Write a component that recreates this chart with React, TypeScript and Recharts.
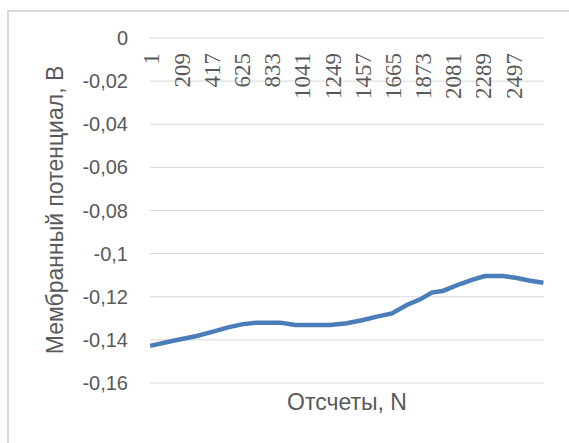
import React from 'react';
import { LineChart, Line, XAxis, YAxis, CartesianGrid } from 'recharts';

// sample index (Отсчеты) and membrane potential
const samples = [1, 160, 322, 435, 538, 641, 735, 896, 1000, 1241, 1356, 1468, 1563, 1666, 1769, 1861, 1941, 2021, 2136, 2228, 2308, 2435, 2527, 2619, 2710];
const potential = [-0.1428, -0.1404, -0.1382, -0.1362, -0.1342, -0.1327, -0.132, -0.132, -0.1331, -0.1331, -0.1323, -0.1308, -0.1292, -0.1277, -0.1238, -0.1212, -0.1181, -0.1172, -0.1141, -0.1119, -0.1104, -0.1104, -0.1113, -0.1126, -0.1135];

const xTicks = [1, 209, 417, 625, 833, 1041, 1249, 1457, 1665, 1873, 2081, 2289, 2497];
const yTicks = [0, -0.02, -0.04, -0.06, -0.08, -0.1, -0.12, -0.14, -0.16];

const data = samples.map((n, i) => ({ n, v: potential[i] }));

const labelColor = '#595959';
const sans = "'Liberation Sans', Arial, sans-serif";
const serif = "'Liberation Serif', 'Times New Roman', serif";

const fmtY = (v: number) => String(Math.round(v * 100) / 100).replace('.', ',');

// category labels sit under the zero line, rotated, reading bottom-to-top
const TopTick = (props: any) => {
  const { x, y, payload } = props;
  const ty = y + 15;
  return (
    <text
      x={x}
      y={ty}
      dy="0.4em"
      transform={`rotate(-90, ${x}, ${ty})`}
      textAnchor="end"
      fill={labelColor}
      style={{ fontFamily: serif, fontSize: 23 }}
    >
      {payload.value}
    </text>
  );
};

export default function App() {
  return (
    <div
      style={{
        position: 'absolute',
        left: 0,
        top: 0,
        width: 569,
        height: 443,
        overflow: 'hidden',
        background: '#fff',
      }}
    >
      <div
        style={{
          position: 'absolute',
          left: 7,
          top: 10,
          width: 600,
          height: 500,
          border: '2px solid #d9d9d9',
        }}
      />
      <div style={{ position: 'absolute', left: 0, top: 0 }}>
        <LineChart
          width={569}
          height={443}
          data={data}
          margin={{ top: 36, right: 25, left: 80, bottom: 60 }}
        >
          <CartesianGrid stroke="#d9d9d9" vertical={false} />
          <XAxis
            dataKey="n"
            type="number"
            orientation="top"
            domain={[0, 2714]}
            ticks={xTicks}
            height={2}
            axisLine={false}
            tickLine={false}
            tickSize={0}
            tickMargin={0}
            tick={<TopTick />}
            interval={0}
          />
          <YAxis
            domain={[-0.16, 0]}
            ticks={yTicks}
            tickFormatter={fmtY}
            width={70}
            axisLine={false}
            tickLine={false}
            tickSize={0}
            tickMargin={22}
            tick={{ fill: labelColor, fontFamily: sans, fontSize: 20 }}
            interval={0}
          />
          <Line
            type="linear"
            dataKey="v"
            stroke="#4a7ebb"
            strokeWidth={4.5}
            dot={false}
            isAnimationActive={false}
          />
        </LineChart>
      </div>
      <div
        style={{
          position: 'absolute',
          left: 0,
          top: 0,
          pointerEvents: 'none',
        }}
      >
        <svg width={569} height={443}>
          <text
            x={55}
            y={210}
            transform="rotate(-90, 55, 210)"
            textAnchor="middle"
            dominantBaseline="central"
            fill={labelColor}
            style={{ fontFamily: sans, fontSize: 23 }}
          >
            Мембранный потенциал, В
          </text>
          <text
            x={347}
            y={402}
            textAnchor="middle"
            dominantBaseline="central"
            fill={labelColor}
            style={{ fontFamily: sans, fontSize: 23 }}
          >
            Отсчеты, N
          </text>
        </svg>
      </div>
    </div>
  );
}
